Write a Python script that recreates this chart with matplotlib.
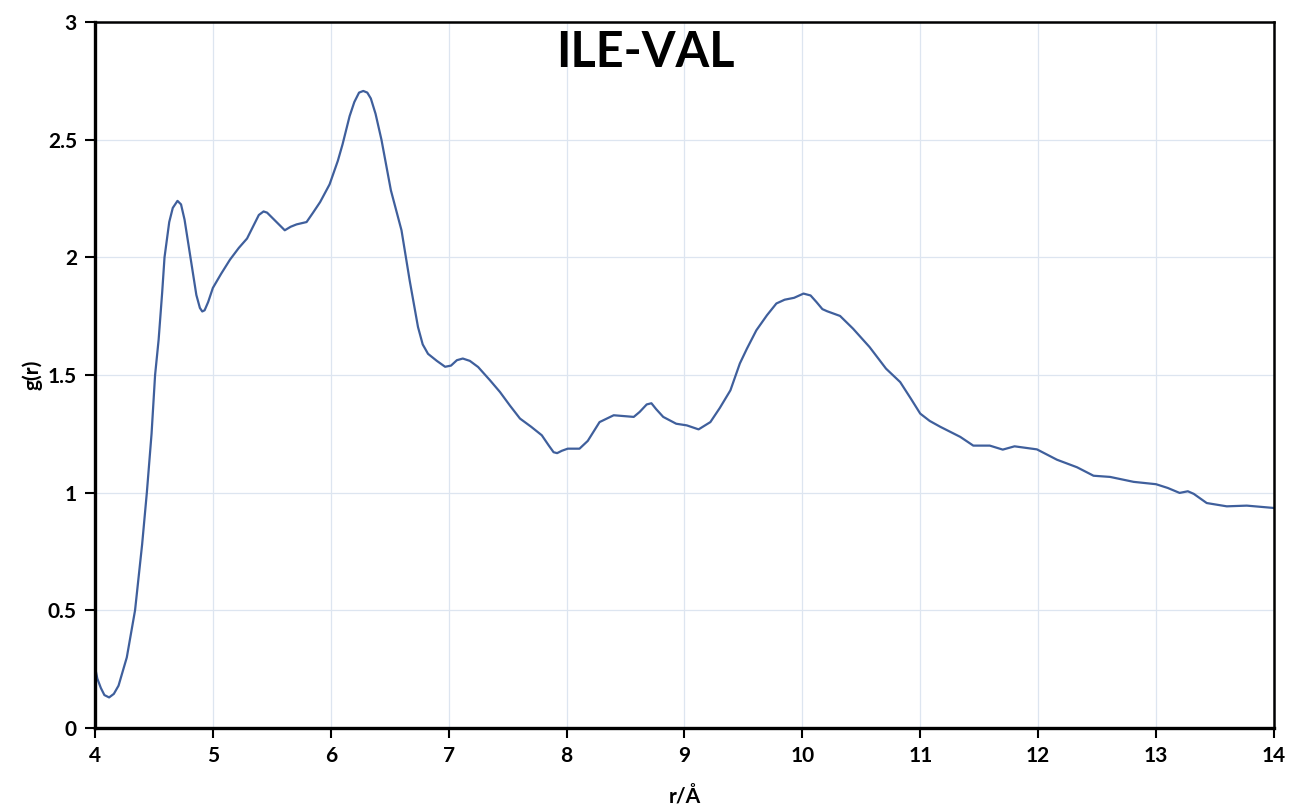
import matplotlib
matplotlib.use("Agg")
import matplotlib.pyplot as plt

# radial distribution function, ILE-VAL pair
r_vals = [
    4.00, 4.02, 4.05, 4.08, 4.12, 4.16, 4.20, 4.27, 4.34, 4.40,
    4.44, 4.48, 4.51, 4.54, 4.57, 4.59, 4.63, 4.66, 4.70, 4.73,
    4.76, 4.81, 4.86, 4.89, 4.91, 4.93, 4.96, 5.00, 5.07, 5.145,
    5.22, 5.29, 5.35, 5.39, 5.43, 5.46, 5.50, 5.56, 5.61, 5.66,
    5.71, 5.795, 5.85, 5.91, 5.99, 6.06, 6.10, 6.16, 6.20, 6.24,
    6.276, 6.31, 6.34, 6.38, 6.43, 6.51, 6.60, 6.67, 6.74, 6.78,
    6.825, 6.90, 6.97, 7.02, 7.07, 7.12, 7.18, 7.25, 7.35, 7.435,
    7.52, 7.605, 7.70, 7.79, 7.85, 7.89, 7.92, 7.96, 8.01, 8.11,
    8.18, 8.28, 8.40, 8.50, 8.57, 8.62, 8.68, 8.72, 8.76, 8.82,
    8.93, 9.02, 9.12, 9.22, 9.30, 9.39, 9.47, 9.53, 9.61, 9.70,
    9.78, 9.85, 9.93, 10.01, 10.07, 10.12, 10.17, 10.21, 10.32, 10.43,
    10.57, 10.71, 10.83, 10.92, 11.00, 11.08, 11.17, 11.34, 11.45, 11.59,
    11.70, 11.80, 11.90, 11.99, 12.16, 12.33, 12.47, 12.61, 12.81, 13.00,
    13.10, 13.20, 13.27, 13.32, 13.43, 13.60, 13.77, 14.00,
]
g_vals = [
    0.26, 0.21, 0.17, 0.14, 0.13, 0.145, 0.18, 0.30, 0.50, 0.78,
    1.00, 1.25, 1.50, 1.65, 1.85, 2.00, 2.15, 2.21, 2.24, 2.225,
    2.16, 2.00, 1.84, 1.785, 1.77, 1.775, 1.81, 1.87, 1.93, 1.99,
    2.04, 2.08, 2.14, 2.18, 2.195, 2.19, 2.17, 2.14, 2.115, 2.13,
    2.14, 2.15, 2.19, 2.235, 2.31, 2.41, 2.48, 2.60, 2.66, 2.70,
    2.707, 2.70, 2.675, 2.61, 2.50, 2.285, 2.115, 1.90, 1.704, 1.63,
    1.59, 1.56, 1.535, 1.54, 1.563, 1.57, 1.56, 1.534, 1.478, 1.428,
    1.37, 1.315, 1.28, 1.244, 1.20, 1.172, 1.168, 1.178, 1.187, 1.187,
    1.22, 1.30, 1.329, 1.325, 1.322, 1.343, 1.375, 1.38, 1.355, 1.322,
    1.293, 1.286, 1.269, 1.30, 1.36, 1.435, 1.549, 1.612, 1.69, 1.754,
    1.804, 1.82, 1.828, 1.846, 1.838, 1.81, 1.78, 1.771, 1.751, 1.697,
    1.619, 1.527, 1.47, 1.40, 1.336, 1.305, 1.28, 1.237, 1.20, 1.20,
    1.183, 1.197, 1.19, 1.184, 1.14, 1.108, 1.072, 1.067, 1.046, 1.036,
    1.02, 0.999, 1.006, 0.995, 0.956, 0.942, 0.945, 0.935,
]

x_ticks = list(range(4, 15))
y_ticks = [0, 0.5, 1, 1.5, 2, 2.5, 3]
y_tick_labels = ["0", "0.5", "1", "1.5", "2", "2.5", "3"]

plt.rcParams["font.family"] = ["Lato", "DejaVu Sans"]

fig = plt.figure(figsize=(12.92, 8.09), dpi=100)
ax = fig.add_axes([0.0735, 0.1001, 0.9125, 0.8727])

ax.plot(r_vals, g_vals, color="#3f5f9c", lw=1.6,
        solid_joinstyle="round", solid_capstyle="round")

ax.set_xlim(4, 14)
ax.set_ylim(0, 3)
ax.set_xticks(x_ticks)
ax.set_xticklabels([str(t) for t in x_ticks])
ax.set_yticks(y_ticks)
ax.set_yticklabels(y_tick_labels)
ax.grid(True, color="#dde5f0", lw=0.9)
ax.set_axisbelow(True)

for side in ["left", "bottom"]:
    ax.spines[side].set_linewidth(2.4)
for side in ["top", "right"]:
    ax.spines[side].set_linewidth(1.8)
for sp in ax.spines.values():
    sp.set_color("black")

ax.tick_params(direction="out", length=7, width=1.5, colors="black",
               labelsize=15, pad=6)
for lbl in ax.get_xticklabels() + ax.get_yticklabels():
    lbl.set_fontweight("bold")

ax.set_xlabel("r/Å", fontsize=15, fontweight="bold", labelpad=14)
ax.set_ylabel("g(r)", fontsize=15, fontweight="bold", labelpad=4)

ax.text(0.467, 0.988, "ILE-VAL", transform=ax.transAxes, ha="center", va="top",
        fontsize=35, fontweight="bold")

fig.savefig("out.png", dpi=100)
